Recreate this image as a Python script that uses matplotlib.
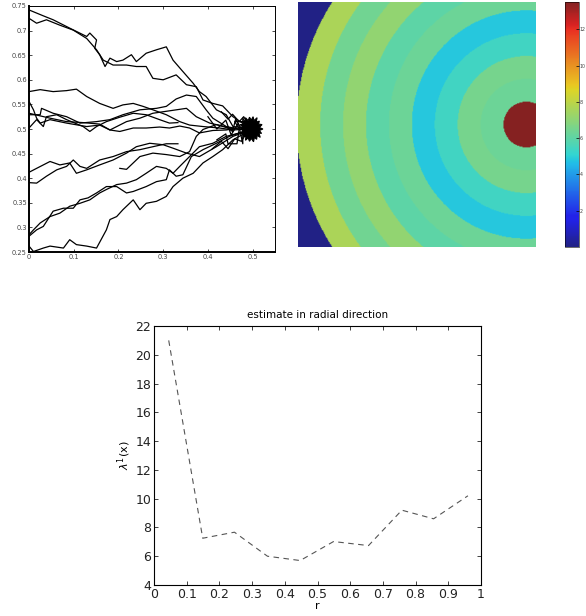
import numpy as np
import matplotlib.pyplot as plt
from matplotlib.colors import ListedColormap
from matplotlib.ticker import FixedLocator

# ============================================================
# DATA
# ============================================================

# sample paths (x, y)
path_a = [(0, 0.742), (0.032, 0.730), (0.054, 0.722), (0.091, 0.705), (0.129, 0.688),
          (0.136, 0.695), (0.151, 0.681), (0.147, 0.664), (0.158, 0.651), (0.170, 0.627),
          (0.181, 0.644), (0.196, 0.637), (0.210, 0.640), (0.229, 0.651), (0.240, 0.637),
          (0.262, 0.654), (0.285, 0.661), (0.307, 0.667), (0.322, 0.640), (0.341, 0.620),
          (0.367, 0.593), (0.381, 0.576), (0.396, 0.566), (0.419, 0.539), (0.441, 0.529),
          (0.456, 0.505), (0.486, 0.502)]
path_b = [(0, 0.725), (0.017, 0.715), (0.039, 0.722), (0.069, 0.711), (0.099, 0.701),
          (0.129, 0.684), (0.151, 0.661), (0.166, 0.640), (0.188, 0.630), (0.218, 0.630),
          (0.240, 0.627), (0.262, 0.627), (0.277, 0.603), (0.300, 0.600), (0.329, 0.610),
          (0.352, 0.590), (0.374, 0.586), (0.389, 0.559), (0.411, 0.552), (0.433, 0.547),
          (0.456, 0.525), (0.480, 0.510)]
path_c = [(0, 0.576), (0.025, 0.580), (0.054, 0.576), (0.084, 0.578), (0.106, 0.581),
          (0.129, 0.566), (0.158, 0.552), (0.188, 0.542), (0.210, 0.549), (0.233, 0.552),
          (0.255, 0.546), (0.277, 0.539), (0.307, 0.529), (0.337, 0.515), (0.359, 0.508),
          (0.389, 0.505), (0.426, 0.502), (0.456, 0.498), (0.490, 0.500)]
path_d = [(0, 0.556), (0.010, 0.539), (0.017, 0.522), (0.025, 0.512), (0.047, 0.519),
          (0.084, 0.512), (0.129, 0.505), (0.158, 0.508), (0.181, 0.498), (0.218, 0.515),
          (0.248, 0.522), (0.277, 0.532), (0.307, 0.536), (0.352, 0.542), (0.374, 0.525),
          (0.404, 0.512), (0.433, 0.506), (0.460, 0.500)]
path_e = [(0, 0.529), (0.025, 0.529), (0.028, 0.542), (0.054, 0.532), (0.084, 0.525),
          (0.114, 0.512), (0.151, 0.515), (0.181, 0.519), (0.210, 0.529), (0.248, 0.539),
          (0.285, 0.542), (0.307, 0.546), (0.329, 0.561), (0.352, 0.569), (0.374, 0.566),
          (0.396, 0.539), (0.411, 0.522), (0.441, 0.505), (0.470, 0.500)]
path_f = [(0, 0.502), (0.017, 0.519), (0.032, 0.505), (0.039, 0.525), (0.062, 0.529),
          (0.084, 0.519), (0.121, 0.505), (0.136, 0.495), (0.151, 0.505), (0.173, 0.515),
          (0.203, 0.524), (0.233, 0.532), (0.262, 0.529), (0.292, 0.519), (0.314, 0.512),
          (0.333, 0.513)]
path_g = [(0, 0.532), (0.047, 0.522), (0.084, 0.515), (0.121, 0.513), (0.158, 0.510),
          (0.181, 0.498), (0.203, 0.495), (0.233, 0.502), (0.262, 0.502), (0.292, 0.504),
          (0.314, 0.502), (0.337, 0.506), (0.359, 0.502), (0.381, 0.492), (0.411, 0.497),
          (0.441, 0.498), (0.463, 0.502)]
path_i = [(0, 0.412), (0.017, 0.420), (0.047, 0.434), (0.069, 0.427), (0.091, 0.431),
          (0.106, 0.410), (0.129, 0.417), (0.158, 0.427), (0.188, 0.437), (0.218, 0.451),
          (0.240, 0.464), (0.270, 0.471), (0.300, 0.468), (0.322, 0.461), (0.352, 0.451),
          (0.381, 0.444), (0.419, 0.464), (0.456, 0.485), (0.486, 0.495)]
path_j = [(0, 0.391), (0.017, 0.390), (0.039, 0.404), (0.062, 0.417), (0.084, 0.424),
          (0.099, 0.437), (0.114, 0.424), (0.129, 0.420), (0.158, 0.437), (0.188, 0.444),
          (0.218, 0.454), (0.248, 0.458), (0.277, 0.464), (0.307, 0.470), (0.333, 0.470)]
path_k = [(0.203, 0.420), (0.218, 0.418), (0.248, 0.444), (0.277, 0.451), (0.307, 0.448),
          (0.337, 0.444), (0.359, 0.454), (0.374, 0.485), (0.389, 0.499), (0.419, 0.509),
          (0.456, 0.499)]
path_l = [(0, 0.285), (0.010, 0.295), (0.025, 0.309), (0.047, 0.322), (0.069, 0.329),
          (0.091, 0.343), (0.114, 0.349), (0.136, 0.356), (0.158, 0.370), (0.173, 0.377),
          (0.196, 0.387), (0.218, 0.390), (0.240, 0.397), (0.262, 0.410), (0.285, 0.424),
          (0.307, 0.420), (0.322, 0.410), (0.337, 0.424), (0.359, 0.444), (0.381, 0.464),
          (0.411, 0.471), (0.441, 0.485), (0.471, 0.492)]
path_m = [(0, 0.282), (0.017, 0.295), (0.032, 0.302), (0.054, 0.333), (0.077, 0.339),
          (0.099, 0.339), (0.114, 0.356), (0.132, 0.360), (0.151, 0.370), (0.173, 0.383),
          (0.196, 0.383), (0.218, 0.370), (0.233, 0.373), (0.262, 0.383), (0.285, 0.393),
          (0.307, 0.397), (0.314, 0.417), (0.329, 0.404), (0.344, 0.407), (0.363, 0.444),
          (0.389, 0.458), (0.419, 0.471), (0.448, 0.485), (0.480, 0.495)]
path_n = [(0, 0.262), (0.010, 0.251), (0.032, 0.258), (0.047, 0.262), (0.077, 0.258),
          (0.091, 0.275), (0.106, 0.265), (0.129, 0.262), (0.151, 0.258), (0.173, 0.295),
          (0.181, 0.316), (0.196, 0.322), (0.210, 0.336), (0.233, 0.356), (0.248, 0.336),
          (0.262, 0.349), (0.285, 0.353), (0.307, 0.363), (0.322, 0.383), (0.344, 0.400),
          (0.367, 0.410), (0.389, 0.431), (0.411, 0.444), (0.433, 0.458), (0.456, 0.478),
          (0.480, 0.490)]
path_w1 = [(0.400, 0.525), (0.420, 0.500), (0.440, 0.518), (0.452, 0.488), (0.468, 0.512),
           (0.478, 0.470), (0.478, 0.522), (0.490, 0.505)]
path_w2 = [(0.420, 0.478), (0.440, 0.490), (0.445, 0.470), (0.465, 0.470), (0.470, 0.500),
           (0.460, 0.515), (0.485, 0.515)]
path_w3 = [(0.430, 0.535), (0.445, 0.520), (0.455, 0.530), (0.470, 0.515), (0.480, 0.525),
           (0.490, 0.510)]
path_w4 = [(0.410, 0.460), (0.430, 0.475), (0.445, 0.460), (0.460, 0.480), (0.475, 0.475),
           (0.485, 0.490)]
path_w5 = [(0.440, 0.505), (0.455, 0.495), (0.462, 0.520), (0.475, 0.500), (0.490, 0.495)]

paths = [path_a, path_b, path_c, path_d, path_e, path_f, path_g, path_i, path_j,
         path_k, path_l, path_m, path_n, path_w1, path_w2, path_w3, path_w4, path_w5]

# dense end cluster around (0.5, 0.5)
blob = [(0.523, 0.500), (0.515, 0.503), (0.521, 0.509), (0.513, 0.510), (0.515, 0.516),
        (0.508, 0.514), (0.510, 0.523), (0.503, 0.517), (0.501, 0.525), (0.497, 0.518),
        (0.493, 0.524), (0.490, 0.517), (0.484, 0.523), (0.485, 0.514), (0.478, 0.516),
        (0.481, 0.509), (0.472, 0.509), (0.479, 0.503), (0.472, 0.500), (0.479, 0.497),
        (0.473, 0.491), (0.480, 0.490), (0.479, 0.485), (0.485, 0.485), (0.484, 0.477),
        (0.490, 0.482), (0.493, 0.475), (0.497, 0.481), (0.502, 0.474), (0.504, 0.483),
        (0.509, 0.479), (0.510, 0.487), (0.517, 0.483), (0.514, 0.492), (0.520, 0.491),
        (0.515, 0.497)]

# ring map: outer radius of each ring and its value (centre outwards)
ring_outer = [0.1, 0.2, 0.3, 0.4, 0.5, 0.6, 0.7, 0.8, 0.9, 1.003]
ring_value = [13.5, 6.3, 6.5, 5.4, 4.8, 6.3, 6.0, 7.1, 6.4, 7.6]
outside_value = 0.0

# radial estimate
r_bins = [0.045, 0.149, 0.246, 0.347, 0.447, 0.549, 0.656, 0.758, 0.855, 0.960]
lam_est = [21.0, 7.25, 7.67, 6.0, 5.7, 7.02, 6.74, 9.2, 8.6, 10.2]

# ============================================================
# COLORMAP (washed-out jet, as printed)
# ============================================================

base = plt.get_cmap("jet")(np.linspace(0, 1, 256))
base[:, 1] = base[:, 1] * 0.9
base[:, :3] = 0.78 * base[:, :3] + 0.22 * 0.6
washed_jet = ListedColormap(base)

# ============================================================
# FIGURE
# ============================================================

fig = plt.figure(figsize=(5.86, 6.16), dpi=100)

# ---- paths -------------------------------------------------
ax1 = fig.add_axes([29 / 586, 1 - 252 / 616, 246 / 586, 246 / 616])

for p in paths:
    xs = [q[0] for q in p]
    ys = [q[1] for q in p]
    ax1.plot(xs, ys, color="black", lw=0.9)

ax1.fill([q[0] for q in blob], [q[1] for q in blob], facecolor="black",
         edgecolor="black", lw=0.8)

ax1.set_xlim(0, 0.55)
ax1.set_ylim(0.25, 0.75)
ax1.set_xticks([0, 0.1, 0.2, 0.3, 0.4, 0.5])
ax1.set_xticklabels(["0", "0.1", "0.2", "0.3", "0.4", "0.5"])
ax1.set_yticks([0.25, 0.3, 0.35, 0.4, 0.45, 0.5, 0.55, 0.6, 0.65, 0.7, 0.75])
ax1.set_yticklabels(["0.25", "0.3", "0.35", "0.4", "0.45", "0.5", "0.55",
                     "0.6", "0.65", "0.7", "0.75"])
ax1.tick_params(direction="in", length=2, width=0.5, labelsize=4.8,
                labelcolor="#444444", pad=1.5, top=True, right=True)
for s in ["left", "bottom"]:
    ax1.spines[s].set_linewidth(1.4)
for s in ["top", "right"]:
    ax1.spines[s].set_linewidth(0.7)

# ---- ring image --------------------------------------------
ax2 = fig.add_axes([298 / 586, 1 - 247 / 616, 238 / 586, 245 / 616])

gx = np.linspace(-0.995, 0.04, 300)
gy = np.linspace(-0.535, 0.535, 300)
GX, GY = np.meshgrid(gx, gy)
R = np.sqrt(GX**2 + GY**2)

idx = np.digitize(R, ring_outer)
vals = np.array(ring_value + [outside_value])
field = vals[idx]

im = ax2.imshow(field, cmap=washed_jet, vmin=0, vmax=13.5, origin="lower",
                extent=[gx[0], gx[-1], gy[0], gy[-1]], aspect="auto",
                interpolation="bilinear")
ax2.set_axis_off()

# ---- colorbar ----------------------------------------------
cax = fig.add_axes([565 / 586, 1 - 247 / 616, 14 / 586, 245 / 616])
cb = fig.colorbar(im, cax=cax)
cb.set_ticks([2, 4, 6, 8, 10, 12])
cb.ax.tick_params(labelsize=3.4, length=2, width=0.5, direction="in",
                  labelcolor="#444444", pad=0.5)
cb.outline.set_linewidth(0.4)

# ---- radial estimate ---------------------------------------
ax3 = fig.add_axes([154 / 586, 31 / 616, 327 / 586, 259 / 616])

ax3.plot(r_bins, lam_est, color="#555555", lw=0.8, linestyle=(0, (5, 4)))

ax3.set_xlim(0, 1)
ax3.set_ylim(4, 22)
ax3.xaxis.set_major_locator(FixedLocator([0, 0.1, 0.2, 0.3, 0.4, 0.5,
                                          0.6, 0.7, 0.8, 0.9, 1.0]))
ax3.set_xticklabels(["0", "0.1", "0.2", "0.3", "0.4", "0.5", "0.6",
                     "0.7", "0.8", "0.9", "1"])
ax3.set_yticks([4, 6, 8, 10, 12, 14, 16, 18, 20, 22])
ax3.tick_params(direction="in", length=3, width=0.6, labelsize=9,
                top=True, right=True, pad=2, colors="#222222")
for s in ax3.spines.values():
    s.set_linewidth(0.8)

ax3.set_title("estimate in radial direction", fontsize=7.5, pad=6)
ax3.set_xlabel("r", fontsize=8, labelpad=0)
ax3.set_ylabel(r"$\lambda^1$(x)", fontsize=8, labelpad=2)

plt.savefig("out.png", dpi=100)
